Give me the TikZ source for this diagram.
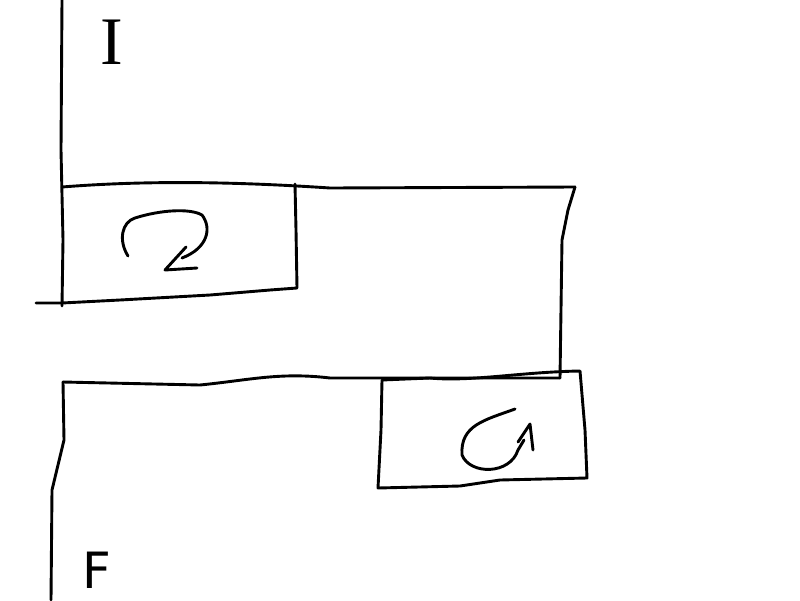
\documentclass[tikz,border=0pt]{standalone}
\usepackage{fontspec}
\setmainfont{DejaVu Sans}
\newfontfamily\serifI{Liberation Serif}
\begin{document}
\begin{tikzpicture}[x=1pt,y=-1pt,
  stroke/.style={line width=2.9pt,line cap=round,line join=round},
  lbl/.style={font=\fontsize{50}{52}\selectfont,inner sep=0pt}]
\useasboundingbox (0,0) rectangle (800,600);
% left vertical (top) and top edge
\draw[stroke] (62,0) -- (61,150) -- (63,240) -- (62,306);
\draw[stroke] (62,187) .. controls (150,180) and (240,182) .. (330,188) -- (575,187);
\draw[stroke] (575,187) -- (568,210) -- (562,240) -- (560,378);
% box 1
\draw[stroke] (295,184) -- (296,230) -- (297,288) -- (270,290) -- (210,295) -- (120,300) -- (62,303) -- (36,303);
% middle line
\draw[stroke] (560,378) -- (330,378) .. controls (280,372) and (250,380) .. (200,385) -- (63,382);
% left vertical (bottom)
\draw[stroke] (63,382) -- (64,440) -- (52,490) -- (51,600);
% box 2
\draw[stroke] (382,380) -- (430,378) .. controls (470,382) and (520,372) .. (580,371)
  -- (585,430) -- (587,478) -- (500,480) -- (460,486) -- (378,488) -- (381,430) -- cycle;
% arrow 1
\draw[stroke] (128,256) .. controls (118,240) and (122,222) .. (135,218)
  .. controls (160,210) and (190,208) .. (202,215)
  .. controls (212,228) and (208,248) .. (182,258);
\draw[stroke] (186,247) -- (165,270) -- (197,268);
% arrow 2
\draw[stroke] (515,409) .. controls (485,420) and (460,425) .. (462,455)
  .. controls (470,475) and (510,475) .. (518,450) -- (524,440);
\draw[stroke] (518,442) -- (530,424) -- (533,450);
% labels
\node[lbl,font=\fontsize{68}{70}\selectfont\serifI] (I) at (112,42) {I};
\node[lbl] (F) at (97,570) {F};
\end{tikzpicture}
\end{document}
